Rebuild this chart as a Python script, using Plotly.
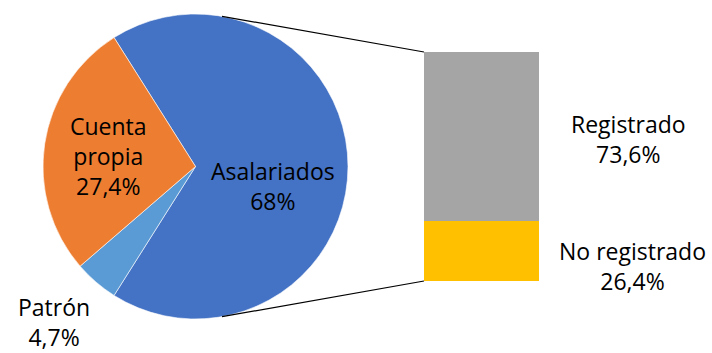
import math
import plotly.graph_objects as go

# Employment categories (pie) and breakdown of wage earners (bar)
pie_labels = ["Asalariados", "Patrón", "Cuenta propia"]
pie_values = [68.0, 4.7, 27.4]
pie_texts = ["Asalariados<br>68%", "Patrón<br>4,7%", "Cuenta<br>propia<br>27,4%"]
pie_colors = ["#4472C4", "#5B9BD5", "#ED7D31"]

bar_labels = ["No registrado", "Registrado"]
bar_values = [26.4, 73.6]
bar_texts = ["No registrado<br>26,4%", "Registrado<br>73,6%"]
bar_colors = ["#FFC000", "#A5A5A5"]

W, H = 712, 353
FONT = "Open Sans, Noto Sans, sans-serif"
FS = 23

# pie geometry (pixels)
cx, cy, r = 195.5, 166.5, 152.5
# bar box (pixels)
bx0, bx1, by0, by1 = 424, 539, 52, 281

# first slice centred on 3 o'clock
total = sum(pie_values)
rotation = 90 - pie_values[0] / total * 180

fig = go.Figure()
fig.add_trace(go.Pie(
    labels=pie_labels, values=pie_values, sort=False, direction="clockwise",
    rotation=rotation, textinfo="none", hoverinfo="label+percent",
    marker=dict(colors=pie_colors, line=dict(color="white", width=0.6)),
    domain=dict(x=[(cx - r) / W, (cx + r) / W], y=[1 - (cy + r) / H, 1 - (cy - r) / H]),
    showlegend=False,
))

for lab, val, col in zip(bar_labels, bar_values, bar_colors):
    fig.add_trace(go.Bar(x=[0], y=[val], name=lab, marker=dict(color=col, line=dict(width=0)),
                         width=1, showlegend=False, hoverinfo="name+y"))


def to_paper(px, py):
    return px / W, 1 - py / H


def tangent(px, py, upper):
    dx, dy = px - cx, py - cy
    d = math.hypot(dx, dy)
    phi = math.atan2(dy, dx)
    a = math.acos(r / d)
    t = phi - a if upper else phi + a
    return cx + r * math.cos(t), cy + r * math.sin(t)


shapes = []
for (px, py), upper in (((bx0, by0), True), ((bx0, by1), False)):
    tx, ty = tangent(px, py, upper)
    x0, y0 = to_paper(tx, ty)
    x1, y1 = to_paper(px, py)
    shapes.append(dict(type="line", xref="paper", yref="paper", x0=x0, y0=y0, x1=x1, y1=y1,
                       line=dict(color="#000000", width=1.2)))

# label anchor points (pixels)
label_pos = {
    "Asalariados<br>68%": (273, 186.5),
    "Patrón<br>4,7%": (54, 322),
    "Cuenta<br>propia<br>27,4%": (108, 156),
    "Registrado<br>73,6%": (628, 139),
    "No registrado<br>26,4%": (632, 266),
}
annotations = []
for txt in pie_texts + bar_texts:
    px, py = label_pos[txt]
    x, y = to_paper(px, py)
    annotations.append(dict(x=x, y=y, xref="paper", yref="paper", text=txt, showarrow=False,
                            xanchor="center", yanchor="middle", align="center", borderpad=0,
                            font=dict(family=FONT, size=FS, color="#000000")))

fig.update_layout(
    width=W, height=H, margin=dict(l=0, r=0, t=0, b=0),
    paper_bgcolor="white", plot_bgcolor="white",
    barmode="stack",
    xaxis=dict(domain=[bx0 / W, bx1 / W], range=[-0.5, 0.5], visible=False, fixedrange=True),
    yaxis=dict(domain=[1 - by1 / H, 1 - by0 / H], range=[0, 100], visible=False, fixedrange=True),
    shapes=shapes, annotations=annotations,
    font=dict(family=FONT),
)

fig.write_html("out.html")
